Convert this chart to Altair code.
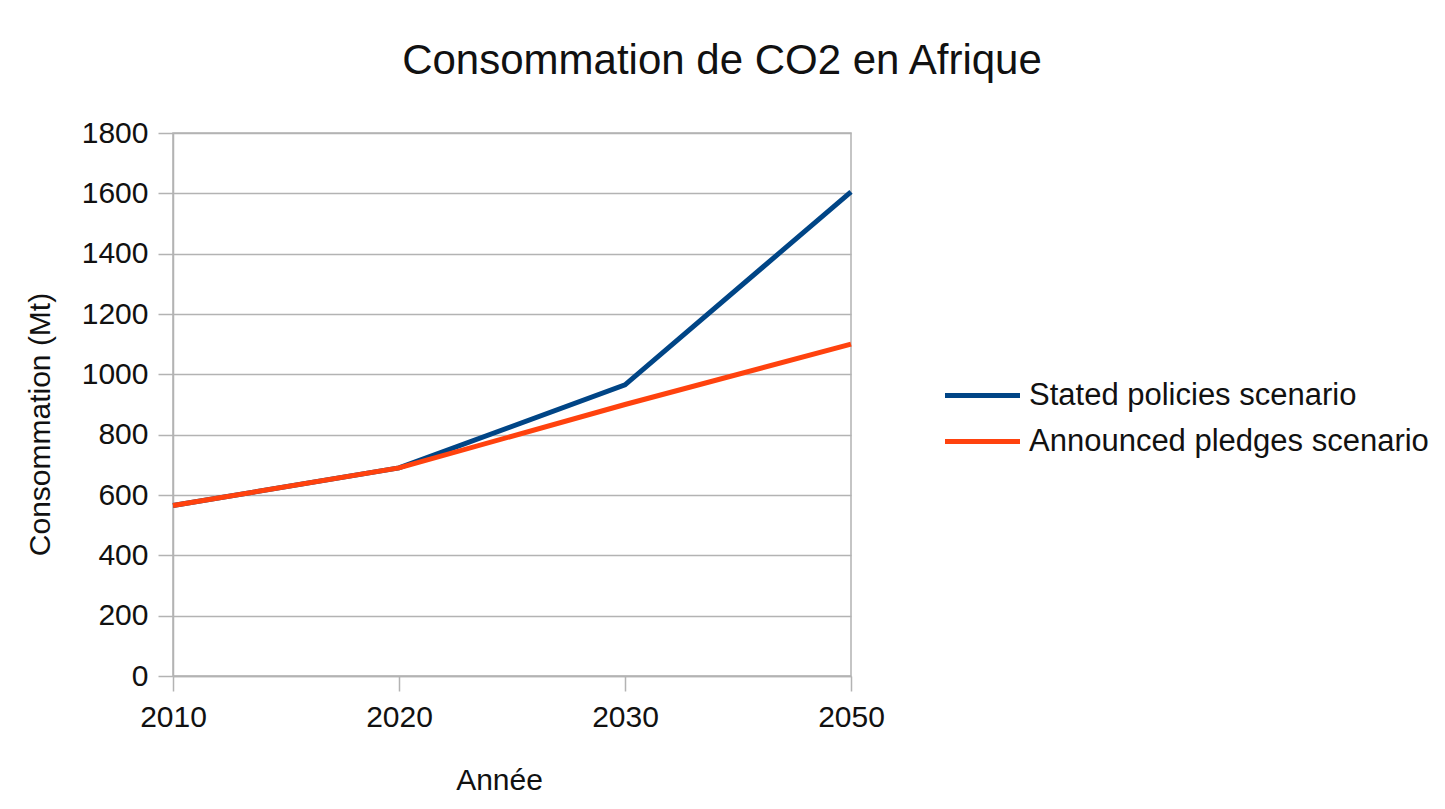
import altair as alt
import pandas as pd

years = ["2010", "2020", "2030", "2050"]
stated = [565, 690, 965, 1605]
announced = [565, 690, 900, 1100]
series_names = ["Stated policies scenario", "Announced pledges scenario"]
colors = ["#004586", "#ff420e"]

rows = []
for y, v in zip(years, stated):
    rows.append({"Année": y, "value": v, "series": series_names[0]})
for y, v in zip(years, announced):
    rows.append({"Année": y, "value": v, "series": series_names[1]})
df = pd.DataFrame(rows)

FONT = "Liberation Sans"
GRID = "#b3b3b3"

chart = (
    alt.Chart(df)
    .mark_line(strokeWidth=5)
    .encode(
        x=alt.X(
            "Année:O",
            sort=years,
            scale=alt.Scale(type="point", padding=0),
            axis=alt.Axis(
                title="Année",
                labelAngle=0,
                grid=False,
                tickSize=15,
                labelPadding=11,
                domainColor=GRID,
                tickColor=GRID,
                domainWidth=1.5,
                tickWidth=1.5,
                titleX=326,
                titleY=104,
                titleBaseline="middle",
                titleAlign="center",
            ),
        ),
        y=alt.Y(
            "value:Q",
            scale=alt.Scale(domain=[0, 1800], nice=False),
            axis=alt.Axis(
                title="Consommation (Mt)",
                values=list(range(0, 1801, 200)),
                format="d",
                grid=True,
                gridColor=GRID,
                gridWidth=1.5,
                tickSize=15,
                labelPadding=10,
                domainColor=GRID,
                tickColor=GRID,
                domainWidth=1.5,
                tickWidth=1.5,
                titleX=-133,
                titleY=291,
                titleBaseline="middle",
                titleAlign="center",
                titleAngle=-90,
            ),
        ),
        color=alt.Color(
            "series:N",
            sort=series_names,
            scale=alt.Scale(domain=series_names, range=colors),
            legend=alt.Legend(
                title=None,
                orient="none",
                legendX=794,
                legendY=247,
                symbolType="M-3,0L3,0",
                symbolSize=625,
                symbolStrokeWidth=5,
                labelOffset=31,
                rowPadding=14,
                labelFontSize=31,
                labelFont=FONT,
                labelColor="#111111",
                labelLimit=0,
            ),
        ),
    )
    .properties(
        width=678,
        height=543,
        autosize=alt.AutoSizeParams(type="none"),
        padding={"left": 165, "top": 125, "right": 586, "bottom": 120},
        title=alt.TitleParams(
            "Consommation de CO2 en Afrique",
            anchor="middle",
            dx=210,
            offset=35,
            fontSize=42,
            font=FONT,
            fontWeight="normal",
            color="#111111",
        ),
    )
    .configure_view(stroke=GRID, strokeWidth=1.5)
    .configure_axis(
        labelFont=FONT,
        labelFontSize=30,
        labelColor="#111111",
        titleFont=FONT,
        titleFontSize=30,
        titleFontWeight="normal",
        titleColor="#111111",
    )
)

chart.save("out.html", embed_options={"renderer": "svg", "actions": False})
